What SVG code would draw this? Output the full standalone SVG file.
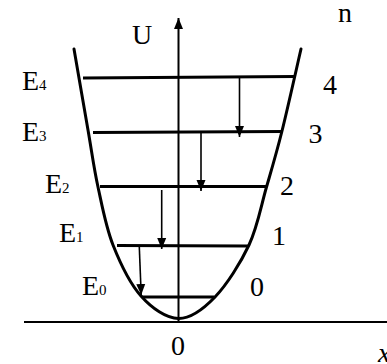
<svg xmlns="http://www.w3.org/2000/svg" width="387" height="364" viewBox="0 0 387 364">
  <style>
    .lbl { font-family: "Liberation Serif", "Times New Roman", serif; font-size: 28px; fill: #000; }
    .sub { font-size: 15px; }
    .it { font-style: italic; }
    .level { stroke: #000; stroke-width: 3; fill: none; }
    .axis { stroke: #000; stroke-width: 2; fill: none; }
    .well { stroke: #000; stroke-width: 3; fill: none; stroke-linecap: round; }
    .trans { stroke: #000; stroke-width: 1.6; fill: none; }
  </style>
  <defs>
    <marker id="head" markerUnits="userSpaceOnUse" markerWidth="12" markerHeight="10" refX="11" refY="5" orient="auto">
      <path d="M0,0.5 L11,5 L0,9.5 Z" fill="#000"/>
    </marker>
  </defs>
  <rect width="387" height="364" fill="#fff"/>

  <g id="axes">
    <line class="axis" x1="24" y1="322" x2="387" y2="322"/>
    <line class="axis" x1="178.5" y1="322" x2="178.5" y2="18" marker-end="url(#head)"/>
  </g>

  <g id="well">
    <path class="well" d="M74,49 C76.3,62.5 84,107 88,130 C92,153 93.8,167.8 98,187 C102.2,206.2 105.8,226.8 113,245 C120.2,263.2 130.1,283.75 141,296 C151.9,308.25 166.2,318.3 178.5,318.5 C190.8,318.7 203.25,309.25 215,297 C226.75,284.75 240.4,263.3 249,245 C257.6,226.7 261,206 266.5,187 C272,168 276.25,154 282,131 C287.75,108 297.8,62.7 301,49"/>
  </g>

  <g id="level-E4"><line class="level" x1="83" y1="78" x2="295" y2="76.5"/></g>
  <g id="level-E3"><line class="level" x1="93" y1="132.5" x2="282" y2="131.5"/></g>
  <g id="level-E2"><line class="level" x1="100" y1="186.5" x2="266" y2="186.5"/></g>
  <g id="level-E1"><line class="level" x1="117" y1="245.5" x2="248" y2="246"/></g>
  <g id="level-E0"><line class="level" x1="142" y1="297" x2="214" y2="297"/></g>

  <g id="connectors">
    <line class="trans" x1="239.5" y1="77" x2="239.5" y2="137" marker-end="url(#head)"/>
    <line class="trans" x1="201" y1="132" x2="201" y2="191" marker-end="url(#head)"/>
    <line class="trans" x1="161.7" y1="190" x2="161.7" y2="249" marker-end="url(#head)"/>
    <line class="trans" x1="139.3" y1="247" x2="141.2" y2="295" marker-end="url(#head)"/>
  </g>

  <g id="labels">
    <text class="lbl" x="132" y="44">U</text>
    <text class="lbl" x="338" y="22">n</text>
    <text class="lbl" x="22" y="90">E<tspan class="sub">4</tspan></text>
    <text class="lbl" x="22" y="141">E<tspan class="sub">3</tspan></text>
    <text class="lbl" x="45" y="193">E<tspan class="sub">2</tspan></text>
    <text class="lbl" x="59" y="242">E<tspan class="sub">1</tspan></text>
    <text class="lbl" x="82" y="295">E<tspan class="sub">0</tspan></text>
    <text class="lbl" x="323" y="94">4</text>
    <text class="lbl" x="308.5" y="143">3</text>
    <text class="lbl" x="280" y="195">2</text>
    <text class="lbl" x="272" y="245">1</text>
    <text class="lbl" x="250" y="296">0</text>
    <text class="lbl" x="171" y="355">0</text>
    <text class="lbl it" x="378" y="362">x</text>
  </g>
</svg>
